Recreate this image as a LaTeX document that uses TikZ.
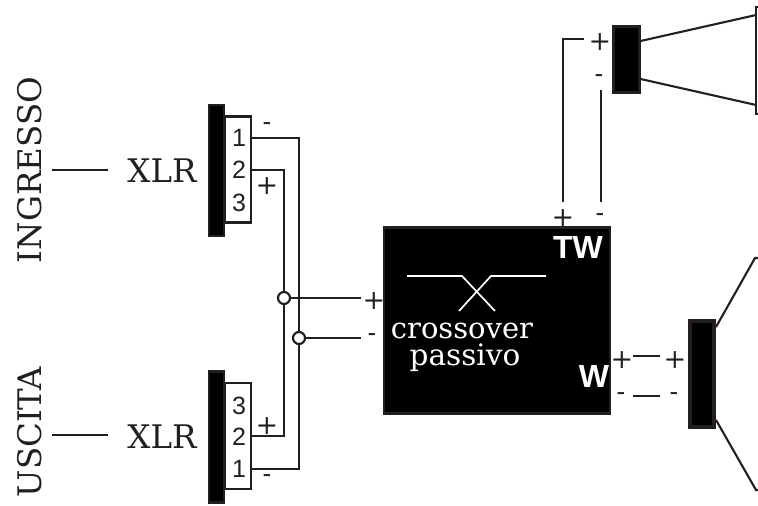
\documentclass[tikz,border=0pt]{standalone}
\usepackage{fontspec}
\setmainfont{DejaVu Serif}
\newfontfamily\labelfont{Liberation Sans}
\definecolor{wirecol}{HTML}{231F20}
\tikzset{
    wire/.style={line width=2.1pt, color=wirecol},
    thinwhite/.style={line width=1.7pt, color=white},
    serif/.style={inner sep=0pt, font=\fontsize{32.5}{36}\selectfont, color=wirecol},
    pin/.style={inner sep=0pt, font=\labelfont\fontsize{25}{28}\selectfont, color=wirecol},
    sign/.style={inner sep=0pt, font=\fontsize{27}{28}\selectfont, color=wirecol},
    minus/.style={inner sep=0pt, font=\labelfont\fontsize{26}{28}\selectfont, color=wirecol},
    blackbox/.style={draw=wirecol, fill=black, line width=2.2pt, inner sep=0pt},
    pinbox/.style={draw=wirecol, fill=white, line width=2.1pt, inner sep=0pt},
    joint/.style={circle, draw=wirecol, fill=white, line width=2.2pt, inner sep=0pt, minimum size=12pt},
}
\begin{document}
\begin{tikzpicture}[x=1pt, y=-1pt]
    \useasboundingbox (0,0) rectangle (758,506);

    % Side labels and plugs
    \node[serif, rotate=90] (ingresso) at (30,170) {INGRESSO};
    \node[serif, rotate=90] (uscita) at (30,432) {USCITA};
    \node[serif] (xlrA) at (162,171) {XLR};
    \node[serif] (xlrB) at (162,437) {XLR};
    \coordinate (feedA) at (52,170);
    \coordinate (feedAend) at (108,170);
    \coordinate (feedB) at (52,435);
    \coordinate (feedBend) at (108,435);
    \draw[wire] (feedA) -- (feedAend);
    \draw[wire] (feedB) -- (feedBend);

    % Upper connector
    \node[blackbox, minimum width=15pt, minimum height=131pt] (barA) at (216.5,170.5) {};
    \node[pinbox, minimum width=26pt, minimum height=106pt] (boxA) at (238,169.5) {};
    \node[pin] (pinA1) at (239,138) {1};
    \node[pin] (pinA2) at (239,170) {2};
    \node[pin] (pinA3) at (239,203) {3};
    \node[minus] (minusA) at (267,127) {-};
    \node[sign] (plusA) at (267,186) {+};

    % Lower connector
    \node[blackbox, minimum width=15pt, minimum height=131pt] (barB) at (216.5,437) {};
    \node[pinbox, minimum width=26pt, minimum height=106pt] (boxB) at (238,436) {};
    \node[pin] (pinB3) at (239,406) {3};
    \node[pin] (pinB2) at (239,437) {2};
    \node[pin] (pinB1) at (239,469) {1};
    \node[sign] (plusB) at (267,426) {+};
    \node[minus] (minusB) at (267,479) {-};

    % Crossover
    \node[blackbox, minimum width=226pt, minimum height=186pt] (xover) at (497,320.5) {};
    \coordinate (hotEnd) at (361,298);
    \coordinate (coldEnd) at (361,338);
    \node[sign] (plusIn) at (374,301) {+};
    \node[minus] (minusIn) at (372,338) {-};
    \node[serif, color=white, font=\fontsize{29}{30}\selectfont] (xtextA) at (462,331) {crossover};
    \node[serif, color=white, font=\fontsize{29.5}{30}\selectfont] (xtextB) at (465,358) {passivo};
    \node[inner sep=0pt, color=white, font=\labelfont\bfseries\fontsize{32}{34}\selectfont] (tw) at (578,247) {TW};
    \node[inner sep=0pt, color=white, font=\labelfont\bfseries\fontsize{32}{34}\selectfont] (w) at (594,376) {W};
    \draw[thinwhite] (407,276) -- (462,276) -- (495,311);
    \draw[thinwhite] (546,276) -- (491,276) -- (459,311);

    % Wires and joints
    \coordinate (wireA1) at (251,138);
    \coordinate (wireA2) at (251,170);
    \coordinate (wireB2) at (251,436);
    \coordinate (wireB1) at (251,469);
    \draw[wire] (wireA1) -| (299,469) -- (wireB1);
    \draw[wire] (wireA2) -| (284,436) -- (wireB2);
    \node[joint] (jointHot) at (284,298) {};
    \node[joint] (jointCold) at (299,338) {};
    \draw[wire] (jointHot) -- (hotEnd);
    \draw[wire] (jointCold) -- (coldEnd);

    % Tweeter
    \node[blackbox, minimum width=26pt, minimum height=66pt] (tweeter) at (626.5,59.5) {};
    \node[sign] (plusT) at (600,42) {+};
    \node[minus] (minusT) at (599,79) {-};
    \node[sign] (plusTW) at (563,218) {+};
    \node[minus] (minusTW) at (600,218) {-};
    \coordinate (hotT) at (584,39);
    \coordinate (hotTW) at (563,202);
    \coordinate (coldT) at (601,90);
    \coordinate (coldTW) at (601,202);
    \draw[wire] (hotTW) |- (hotT);
    \draw[wire] (coldTW) -- (coldT);
    \coordinate (hornA) at (756,15);
    \coordinate (hornB) at (756,105);
    \draw[wire] (tweeter.east |- 0,41) -- (hornA);
    \draw[wire] (tweeter.east |- 0,79) -- (hornB);
    \draw[wire] (759,7) -- (756,7) -- (756,114) -- (759,114);

    % Woofer
    \node[blackbox, line width=3.5pt, minimum width=24pt, minimum height=106pt] (woofer) at (702,374) {};
    \node[sign] (plusW) at (622,360) {+};
    \node[sign] (plusWF) at (675,360) {+};
    \node[minus] (minusW) at (621,397) {-};
    \node[minus] (minusWF) at (674,397) {-};
    \coordinate (hotWa) at (633,356);
    \coordinate (hotWb) at (660,356);
    \coordinate (coldWa) at (633,396);
    \coordinate (coldWb) at (660,396);
    \draw[wire] (hotWa) -- (hotWb);
    \draw[wire] (coldWa) -- (coldWb);
    \draw[wire] (716,327) -- (755,258) -- (759,258);
    \draw[wire] (716,420) -- (756,490) -- (759,490);
\end{tikzpicture}
\end{document}
